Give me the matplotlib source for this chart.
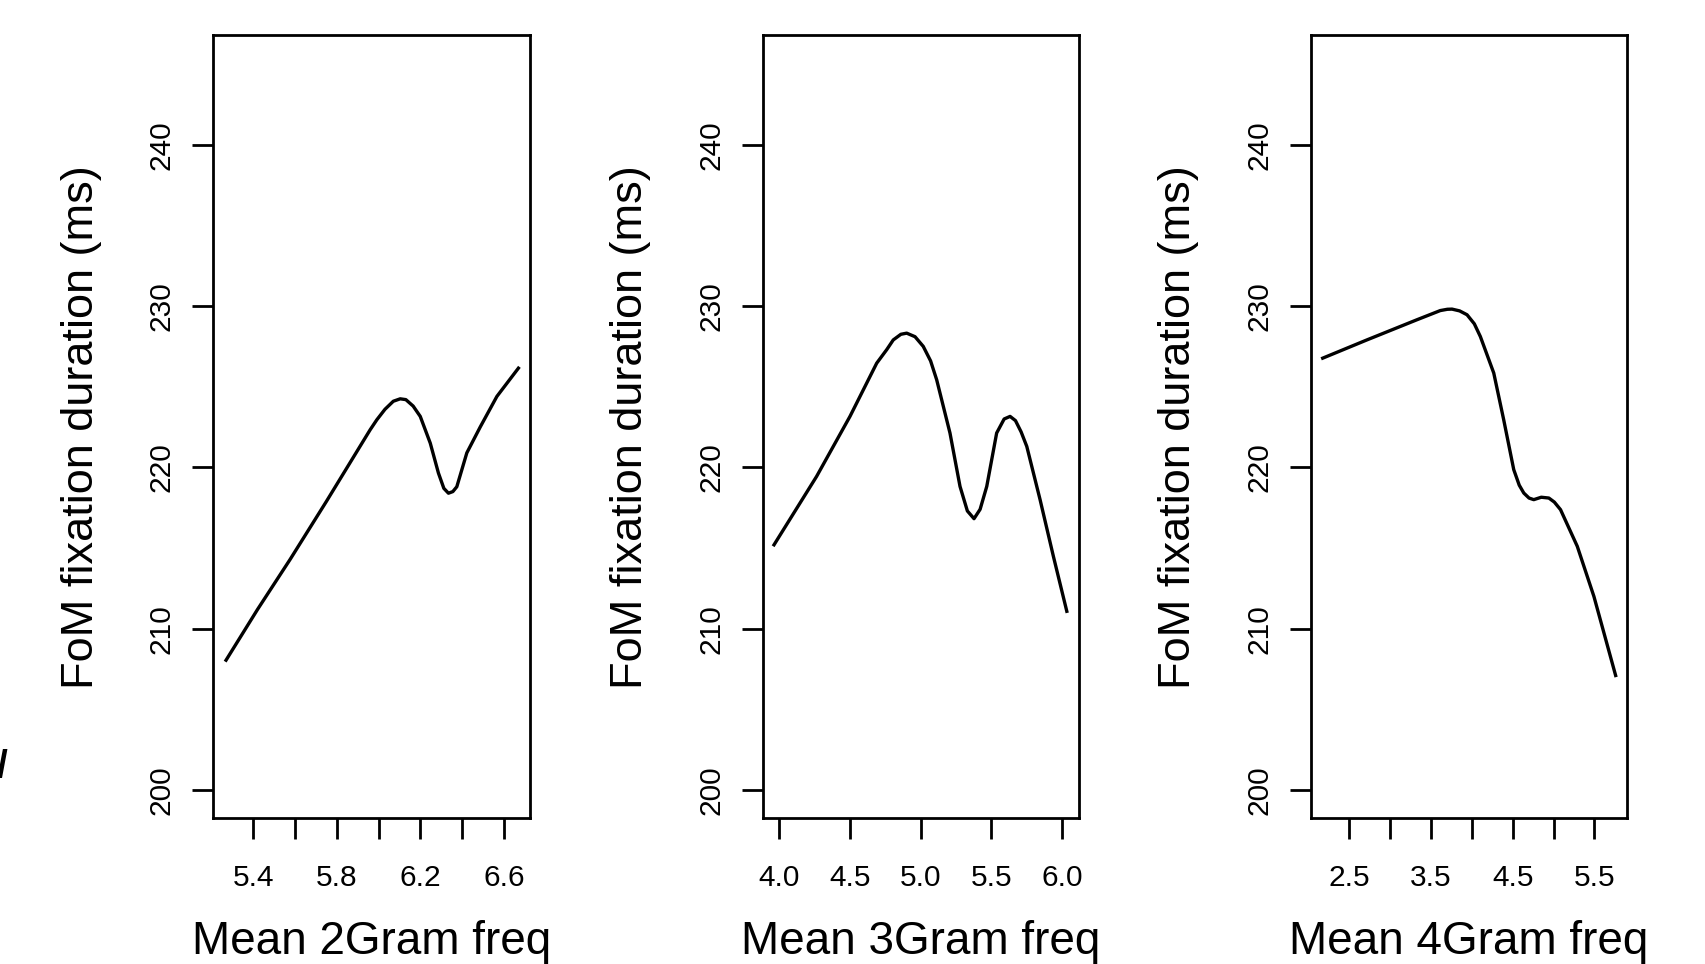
import matplotlib
matplotlib.use('Agg')
from matplotlib import pyplot as plt

plt.rcParams['font.family'] = ['Liberation Sans', 'DejaVu Sans']

# smooth curves (x = mean n-gram freq, y = fixation ms)
x2 = [5.269, 5.420, 5.576, 5.750, 5.959, 5.991, 6.030, 6.070, 6.103, 6.130,
      6.165, 6.199, 6.247, 6.286, 6.312, 6.334, 6.355, 6.374, 6.422, 6.486,
      6.566, 6.669]
y2 = [208.05, 211.2, 214.3, 217.9, 222.33, 222.95, 223.6, 224.1, 224.25, 224.2,
      223.8, 223.16, 221.5, 219.65, 218.7, 218.4, 218.5, 218.8, 220.9, 222.5,
      224.4, 226.15]

x3 = [3.963, 4.264, 4.500, 4.689, 4.760, 4.806, 4.860, 4.901, 4.960, 5.018,
      5.070, 5.113, 5.207, 5.278, 5.330, 5.377, 5.420, 5.467, 5.537, 5.590,
      5.632, 5.670, 5.710, 5.750, 5.844, 5.938, 6.033]
y3 = [215.2, 219.44, 223.16, 226.46, 227.3, 227.9, 228.25, 228.32, 228.1, 227.5,
      226.6, 225.43, 222.13, 218.82, 217.3, 216.82, 217.4, 218.82, 222.13, 223.0,
      223.16, 222.9, 222.2, 221.3, 218.0, 214.49, 211.08]

x4 = [2.173, 2.714, 3.327, 3.613, 3.700, 3.757, 3.850, 3.941, 4.030, 4.104,
      4.268, 4.390, 4.513, 4.580, 4.636, 4.700, 4.758, 4.850, 4.943, 5.010,
      5.086, 5.291, 5.495, 5.761]
y4 = [226.77, 227.9, 229.15, 229.72, 229.8, 229.81, 229.7, 229.46, 228.9, 228.11,
      225.85, 222.95, 219.86, 218.9, 218.41, 218.1, 218.0, 218.15, 218.1, 217.85,
      217.38, 215.11, 212.0, 207.1]

xlabels = ['Mean 2Gram freq', 'Mean 3Gram freq', 'Mean 4Gram freq']
ylabel = 'FoM fixation duration (ms)'

xticks2 = [5.4, 5.6, 5.8, 6.0, 6.2, 6.4, 6.6]
xticklabels2 = ['5.4', '', '5.8', '', '6.2', '', '6.6']
xticks3 = [4.0, 4.5, 5.0, 5.5, 6.0]
xticklabels3 = ['4.0', '4.5', '5.0', '5.5', '6.0']
xticks4 = [2.5, 3.0, 3.5, 4.0, 4.5, 5.0, 5.5]
xticklabels4 = ['2.5', '', '3.5', '', '4.5', '', '5.5']
yticks = [200, 210, 220, 230, 240]

xlims = [(5.208, 6.7245), (3.883, 6.122), (2.026, 5.905)]
ylim = (198.25, 246.8)

fig = plt.figure(figsize=(17.06, 9.64), dpi=100)

lefts = [213.3 / 1706, 762.7 / 1706, 1310.7 / 1706]
bottom = 1 - 818.3 / 964
height = (818.3 - 35) / 964
width = 316.7 / 1706

panels = [(x2, y2, xticks2, xticklabels2),
          (x3, y3, xticks3, xticklabels3),
          (x4, y4, xticks4, xticklabels4)]

for i, (xs, ys, xt, xtl) in enumerate(panels):
    ax = fig.add_axes([lefts[i], bottom, width, height])
    ax.plot(xs, ys, color='black', lw=2.4, solid_joinstyle='round')
    ax.set_xlim(*xlims[i])
    ax.set_ylim(*ylim)
    ax.set_xticks(xt)
    ax.set_xticklabels(xtl)
    ax.set_yticks(yticks)
    ax.set_yticklabels([str(v) for v in yticks], rotation=90, va='center')
    for s in ax.spines.values():
        s.set_linewidth(2.0)
    ax.tick_params(axis='both', length=15, width=2.0, labelsize=21.5)
    ax.tick_params(axis='x', pad=18)
    ax.tick_params(axis='y', pad=12)
    ax.set_xlabel(xlabels[i], fontsize=33, va='center')
    ax.xaxis.set_label_coords(0.5, -0.158)
    ax.set_ylabel(ylabel, fontsize=32.5, va='center')
    ax.yaxis.set_label_coords(-0.416, 0.5)

# cut-off glyph at the left edge of the original
fig.text(0.001, 1 - 767 / 964, '/', fontsize=28, fontweight='bold',
         ha='center', va='center')

plt.savefig('out.png', dpi=100)
